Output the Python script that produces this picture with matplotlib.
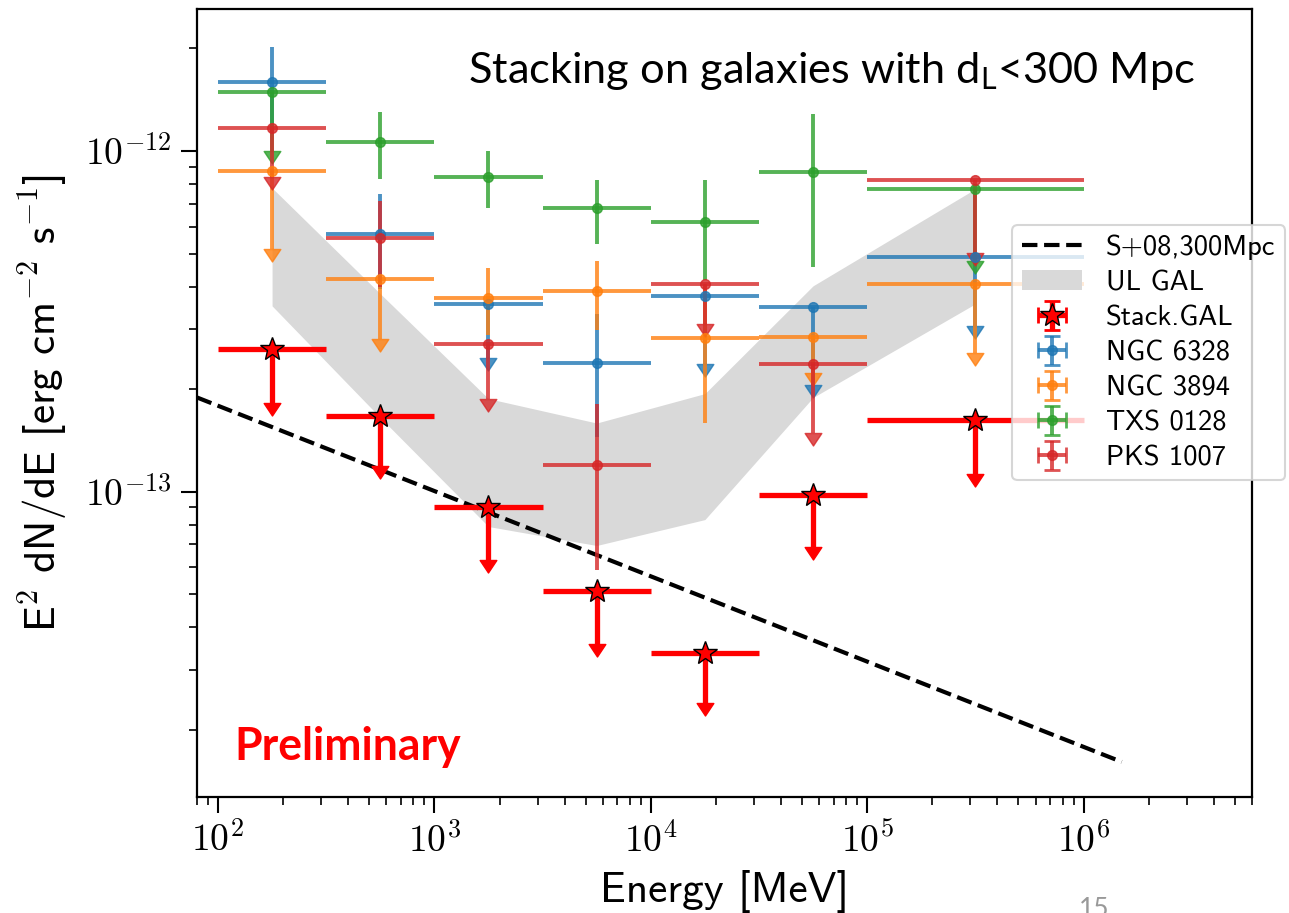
import numpy as np
import matplotlib
matplotlib.use('Agg')
import matplotlib.pyplot as plt
from matplotlib.path import Path
from matplotlib.lines import Line2D
from matplotlib.ticker import FuncFormatter, NullFormatter, LogLocator

plt.rcParams['mathtext.fontset'] = 'cm'
plt.rcParams['mathtext.rm'] = 'Lato'   # only for texts with math_fontfamily='custom'

W, H = 1289, 913

# energy bins [MeV]
e_lo = [100, 316.2, 1000, 3162, 10000, 31623, 100000]
e_hi = [316.2, 1000, 3162, 10000, 31623, 100000, 1000000]
e_c = [177.8, 562.3, 1778, 5623, 17783, 56234, 316228]

# stacked galaxies (all upper limits), arrow length
stack_f = [2.63e-13, 1.67e-13, 9.0e-14, 5.1e-14, 3.37e-14, 9.8e-14, 1.62e-13]
stack_e = [8.1e-14, 4.8e-14, 2.7e-14, 1.52e-14, 9.8e-15, 2.94e-14, 4.9e-14]

# single sources: flux, error (arrow length for upper limits), upper limit flag
ngc6328_f = [1.59e-12, 5.71e-13, 3.56e-13, 2.39e-13, 3.74e-13, 3.49e-13, 4.89e-13]
ngc6328_e = [4.25e-13, 1.77e-13, 1.09e-13, 9.4e-14, 1.37e-13, 1.44e-13, 1.82e-13]
ngc6328_ul = [0, 0, 1, 0, 1, 1, 1]

ngc3894_f = [8.75e-13, 4.22e-13, 3.71e-13, 3.87e-13, 2.82e-13, 2.85e-13, 4.07e-13]
ngc3894_e = [3.59e-13, 1.41e-13, 8.3e-14, 8.9e-14, 1.23e-13, 6.2e-14, 1.51e-13]
ngc3894_ul = [1, 1, 0, 0, 0, 1, 1]

txs0128_f = [1.49e-12, 1.063e-12, 8.41e-13, 6.78e-13, 6.2e-13, 8.7e-13, 7.75e-13]
txs0128_e = [4.9e-13, 2.37e-13, 1.6e-13, 1.44e-13, 2.02e-13, 4.15e-13, 2.99e-13]
txs0128_ul = [1, 0, 0, 0, 0, 0, 1]

pks1007_f = [1.166e-12, 5.56e-13, 2.72e-13, 1.2e-13, 4.07e-13, 2.37e-13, 8.22e-13]
pks1007_e = [3.27e-13, 1.57e-13, 8.45e-14, 6.1e-14, 9.6e-14, 8.8e-14, 3.2e-13]
pks1007_ul = [1, 0, 1, 0, 1, 1, 1]

# UL GAL band
ulgal_hi = [7.79e-13, 3.81e-13, 1.875e-13, 1.59e-13, 1.94e-13, 4.02e-13, 7.74e-13]
ulgal_lo = [3.51e-13, 1.65e-13, 7.9e-14, 6.95e-14, 8.28e-14, 1.89e-13, 3.56e-13]

# S+08 expectation, 300 Mpc
s08_e = [80, 1.5e6]
s08_f = [1.89e-13, 1.61e-14]

# tick positions
xticks = [1e2, 1e3, 1e4, 1e5, 1e6]
yticks = [1e-13, 1e-12]

caret = Path([(-1, 0), (0, -1.5), (1, 0), (-1, 0)],
             [Path.MOVETO, Path.LINETO, Path.LINETO, Path.CLOSEPOLY])

fig = plt.figure(figsize=(W / 100, H / 100), dpi=100)
ax = fig.add_axes([197 / W, 1 - 797 / H, (1252 - 197) / W, (797 - 9) / H])

ec = np.array(e_c)
xerr = [ec - np.array(e_lo), np.array(e_hi) - ec]

ax.plot(s08_e, s08_f, 'k--', lw=3, zorder=2, label='S+08,300Mpc')
ax.fill_between(e_c, ulgal_lo, ulgal_hi, color='0.85', lw=0, zorder=1,
                label='UL GAL')


def fix_caret(cont, color):
    for cl in cont[1]:
        cl.set_marker(caret)
        cl.set_markersize(18)
        cl.set_markerfacecolor(color)
        cl.set_markeredgecolor(color)
        cl.set_markeredgewidth(1)


c = ax.errorbar(e_c, stack_f, xerr=xerr, yerr=stack_e, uplims=[True] * 7,
                fmt='*', color='red', ms=18, mec='k', mew=1, elinewidth=3.8,
                zorder=5, label='Stack.GAL')
fix_caret(c, 'red')

sources = [
    (ngc6328_f, ngc6328_e, ngc6328_ul, '#1f77b4', 'NGC 6328'),
    (ngc3894_f, ngc3894_e, ngc3894_ul, '#ff7f0e', 'NGC 3894'),
    (txs0128_f, txs0128_e, txs0128_ul, '#2ca02c', 'TXS 0128'),
    (pks1007_f, pks1007_e, pks1007_ul, '#d62728', 'PKS 1007'),
]
for f, e, ul, col, name in sources:
    c = ax.errorbar(e_c, f, xerr=xerr, yerr=e, uplims=np.array(ul, bool),
                    fmt='o', color=col, ms=7, elinewidth=2.8, alpha=0.8,
                    zorder=3, label=name)
    fix_caret(c, col)

ax.set_xscale('log')
ax.set_yscale('log')
ax.set_xlim(80, 6e6)
ax.set_ylim(1.27e-14, 2.61e-12)
ax.set_xticks(xticks)
ax.set_yticks(yticks)
ax.xaxis.set_minor_locator(LogLocator(subs=np.arange(2, 10)))
ax.yaxis.set_minor_locator(LogLocator(subs=np.arange(2, 10)))

fmt = FuncFormatter(lambda v, p: r'$\mathrm{10^{%d}}$' % round(np.log10(v)))
ax.xaxis.set_major_formatter(fmt)
ax.yaxis.set_major_formatter(fmt)
ax.xaxis.set_minor_formatter(NullFormatter())
ax.yaxis.set_minor_formatter(NullFormatter())
ax.tick_params(which='major', length=11.5, width=1.5, pad=7, labelsize=27)
ax.tick_params(which='minor', length=6, width=1.2)
for s in ax.spines.values():
    s.set_linewidth(1.6)

xl = ax.set_xlabel('Energy [MeV]', family='cmss10', fontsize=30)
yl = ax.set_ylabel(r'E$^{2}$ dN/dE [erg cm$^{-2}$ s$^{-1}$]', family='cmss10',
                   fontsize=30)
ax.xaxis.set_label_coords(0.5, (797 - 870) / 788)
ax.yaxis.set_label_coords((70 - 197) / 1055, 0.5)

leg = ax.legend(loc='upper left', bbox_to_anchor=(1012 / W, 1 - 225 / H),
                bbox_transform=fig.transFigure, borderaxespad=0,
                prop={'family': 'cmss10', 'size': 20.5},
                handlelength=2.1, handletextpad=0.85, labelspacing=0.35,
                borderpad=0.35)
leg.get_frame().set_linewidth(1.5)
for ln in leg.findobj(Line2D):
    if ln.get_marker() in ('|', '_'):
        ln.set_markersize(11)
        ln.set_markeredgewidth(2)

# slide annotations
t1 = fig.text(468 / W, 1 - 83 / H, r'Stacking on galaxies with d$_{\mathrm{L}}$<300 Mpc',
              family='Lato', math_fontfamily='custom', fontsize=30, va='baseline')
t2 = fig.text(234 / W, 1 - 760 / H, 'Preliminary', color='red', fontweight='bold',
              family='Lato', fontsize=28, va='baseline')
fig.text(1079 / W, 1 - 917 / H, '15', color='#999999', family='Lato', fontsize=19,
         va='baseline')

r = fig.canvas.get_renderer()
for t, target, horiz in [(t1, 727, True), (t2, 227, True), (xl, 249, True), (yl, 458, False)]:
    for _ in range(2):
        bb = t.get_window_extent(r)
        size = bb.width if horiz else bb.height
        t.set_fontsize(t.get_fontsize() * target / size)

fig.savefig('out.png', dpi=100)
